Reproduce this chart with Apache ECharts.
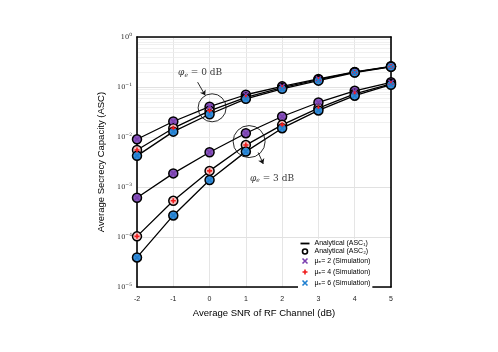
<!DOCTYPE html>
<html>
<head>
<meta charset="UTF-8">
<title>ASC vs SNR</title>
<script src="https://cdn.jsdelivr.net/npm/echarts@6/dist/echarts.min.js"></script>
<style>
    body { margin: 0; background: #fff; }
    #chart { width: 498px; height: 352px; }
</style>
</head>
<body>
<div id="chart"></div>
<script>
// SNR of RF channel (dB)
var snr = [-2, -1, 0, 1, 2, 3, 4, 5];

// phi_e = 0 dB group
var asc0Mu2 = [0.0090, 0.0204, 0.0405, 0.070, 0.103, 0.145, 0.200, 0.259];
var asc0Mu4 = [0.0055, 0.0150, 0.0334, 0.062, 0.097, 0.140, 0.198, 0.256];
var asc0Mu6 = [0.0042, 0.0128, 0.0285, 0.058, 0.092, 0.134, 0.194, 0.254];

// phi_e = 3 dB group
var asc3Mu2 = [6.1e-4, 1.87e-3, 4.95e-3, 0.0119, 0.0257, 0.049, 0.084, 0.124];
var asc3Mu4 = [1.03e-4, 5.3e-4, 2.1e-3, 6.9e-3, 0.0175, 0.0378, 0.073, 0.116];
var asc3Mu6 = [3.9e-5, 2.7e-4, 1.38e-3, 5.1e-3, 0.0150, 0.034, 0.067, 0.111];

// annotation positions (data coordinates)
var ring0 = [0.07, 0.0384];
var ring3 = [1.09, 0.0081];
var label0 = [-0.26, 0.19];
var label3 = [1.72, 0.0015];
var arrow0 = [[-0.33, 0.125], [-0.12, 0.068]];
var arrow3 = [[1.34, 0.0049], [1.48, 0.0029]];

var names = {
    asc1: 'Analytical (ASC\u2081)',
    asc2: 'Analytical (ASC\u2082)',
    mu2: '\u03bc\u2091= 2 (Simulation)',
    mu4: '\u03bc\u2091= 4 (Simulation)',
    mu6: '\u03bc\u2091= 6 (Simulation)'
};

var colors = { mu2: '#7b3fb0', mu4: '#f01c1c', mu6: '#1f7fd0' };
var fills = { mu2: '#8a5bbd', mu4: '#f6c4c4', mu6: '#3e8fd6' };

var xPath = 'path://M0,0L10,10M10,0L0,10';
var plusPath = 'path://M5,0L5,10M0,5L10,5';

function pairs(vals) {
    return snr.map(function (x, i) { return [x, vals[i]]; });
}

// minor grid positions 2..9 x 10^k
var minorLines = [];
for (var k = -5; k < 0; k++) {
    for (var m = 2; m <= 9; m++) {
        minorLines.push({ yAxis: m * Math.pow(10, k) });
    }
}

var curves = [
    { key: 'mu2', v: asc0Mu2 }, { key: 'mu4', v: asc0Mu4 }, { key: 'mu6', v: asc0Mu6 },
    { key: 'mu2', v: asc3Mu2 }, { key: 'mu4', v: asc3Mu4 }, { key: 'mu6', v: asc3Mu6 }
];

var series = [];

// analytical lines (first one also carries the minor gridlines)
curves.forEach(function (c, i) {
    var s = {
        name: names.asc1,
        type: 'line',
        data: pairs(c.v),
        symbol: 'none',
        lineStyle: { color: '#000', width: 1.3 },
        itemStyle: { color: '#000' },
        z: 2
    };
    if (i === 0) {
        s.markLine = {
            silent: true,
            symbol: 'none',
            label: { show: false },
            animation: false,
            z: 0,
            lineStyle: { color: '#ececec', width: 0.8, type: 'solid' },
            data: minorLines
        };
    }
    series.push(s);
});

// analytical ASC2 circles
curves.forEach(function (c) {
    series.push({
        name: names.asc2,
        type: 'scatter',
        data: pairs(c.v),
        symbol: 'circle',
        symbolSize: 9,
        itemStyle: { color: fills[c.key], borderColor: '#000', borderWidth: 1.5, opacity: 1 },
        z: 3
    });
});

// simulation markers
var sims = [
    { key: 'mu2', a: asc0Mu2, b: asc3Mu2, sym: xPath },
    { key: 'mu4', a: asc0Mu4, b: asc3Mu4, sym: plusPath },
    { key: 'mu6', a: asc0Mu6, b: asc3Mu6, sym: xPath }
];
sims.forEach(function (s) {
    series.push({
        name: names[s.key],
        type: 'scatter',
        data: pairs(s.a).concat(pairs(s.b)),
        symbol: s.sym,
        symbolSize: 5,
        itemStyle: { color: 'none', borderColor: colors[s.key], borderWidth: 1.6, opacity: 1 },
        z: 4
    });
});

// annotation rings
[[ring0, 28], [ring3, 32]].forEach(function (r) {
    series.push({
        type: 'scatter',
        silent: true,
        data: [r[0]],
        symbol: 'circle',
        symbolSize: r[1],
        itemStyle: { color: 'rgba(0,0,0,0)', borderColor: '#111', borderWidth: 0.9, opacity: 1 },
        z: 5
    });
});

// annotation labels and arrows
function phiLabel(val) {
    return '{i|\u03c6}{s|e}{t| = ' + val + ' dB}';
}
var labelRich = {
    i: { fontFamily: 'DejaVu Serif', fontStyle: 'italic', fontSize: 9, color: '#000' },
    s: { fontFamily: 'DejaVu Serif', fontStyle: 'italic', fontSize: 6, color: '#000', verticalAlign: 'bottom', padding: [5, 0, 0, 0] },
    t: { fontFamily: 'DejaVu Serif', fontSize: 9, color: '#000' }
};
series.push({
    type: 'scatter',
    silent: true,
    symbolSize: 0,
    data: [
        { value: label0, label: { formatter: phiLabel(0) } },
        { value: label3, label: { formatter: phiLabel(3) } }
    ],
    label: { show: true, position: 'inside', rich: labelRich },
    markLine: {
        silent: true,
        animation: false,
        symbol: ['none', 'arrow'],
        symbolSize: 5,
        label: { show: false },
        lineStyle: { color: '#111', width: 0.9, type: 'solid' },
        data: [
            [{ coord: arrow0[0] }, { coord: arrow0[1] }],
            [{ coord: arrow3[0] }, { coord: arrow3[1] }]
        ]
    },
    z: 6
});

var chart = echarts.init(document.getElementById('chart'));

var frameAxis = {
    axisLine: { onZero: false, lineStyle: { color: '#000', width: 1.6 } },
    axisTick: { show: false },
    axisLabel: { show: false },
    splitLine: { show: false }
};

var option = {
    animation: false,
    textStyle: { fontFamily: 'Liberation Sans' },
    grid: { left: 137, right: 107, top: 37, bottom: 65 },
    legend: {
        orient: 'vertical',
        left: 298,
        top: 239,
        itemWidth: 9,
        itemHeight: 5,
        itemGap: 1,
        backgroundColor: '#fff',
        padding: [1, 2],
        textStyle: { fontSize: 7, color: '#000', fontFamily: 'Liberation Sans, DejaVu Sans', lineHeight: 7 },
        data: [
            { name: names.asc1, icon: 'path://M0,4L10,4L10,6L0,6Z', itemStyle: { color: '#000' } },
            { name: names.asc2, icon: 'circle', itemStyle: { color: '#fff', borderColor: '#000', borderWidth: 1.6 } },
            { name: names.mu2, icon: xPath, itemStyle: { color: 'none', borderColor: colors.mu2, borderWidth: 1.6 } },
            { name: names.mu4, icon: plusPath, itemStyle: { color: 'none', borderColor: colors.mu4, borderWidth: 1.6 } },
            { name: names.mu6, icon: xPath, itemStyle: { color: 'none', borderColor: colors.mu6, borderWidth: 1.6 } }
        ]
    },
    xAxis: [{
        type: 'value',
        min: -2,
        max: 5,
        interval: 1,
        name: 'Average SNR of RF Channel (dB)',
        nameLocation: 'middle',
        nameGap: 19,
        nameTextStyle: { fontSize: 9.5, color: '#000' },
        axisLine: { onZero: false, lineStyle: { color: '#000', width: 1.6 } },
        axisTick: { show: false },
        axisLabel: { fontSize: 7, color: '#222', margin: 9 },
        splitLine: { show: true, lineStyle: { color: '#e2e2e2', width: 0.9 } }
    }, Object.assign({ type: 'value', position: 'top', min: -2, max: 5 }, frameAxis)],
    yAxis: [{
        type: 'log',
        logBase: 10,
        min: 1e-5,
        max: 1,
        name: 'Average Secrecy Capacity (ASC)',
        nameLocation: 'middle',
        nameGap: 24,
        nameTextStyle: { fontSize: 9.5, color: '#000' },
        axisLine: { onZero: false, lineStyle: { color: '#000', width: 1.6 } },
        axisTick: { show: false },
        axisLabel: {
            margin: 5,
            formatter: function (v) {
                var p = Math.round(Math.log10(v));
                return '{b|10}{s|' + (p === 0 ? '0' : '\u2212' + (-p)) + '}';
            },
            rich: {
                b: { fontFamily: 'DejaVu Serif', fontSize: 6.5, color: '#222' },
                s: { fontFamily: 'DejaVu Serif', fontSize: 4.5, color: '#222', verticalAlign: 'top', padding: [0, 0, 5, 0] }
            }
        },
        splitLine: { show: true, lineStyle: { color: '#dedede', width: 0.9 } }
    }, Object.assign({ type: 'log', logBase: 10, position: 'right', min: 1e-5, max: 1 }, frameAxis)],
    series: series
};

chart.setOption(option);
</script>
</body>
</html>
